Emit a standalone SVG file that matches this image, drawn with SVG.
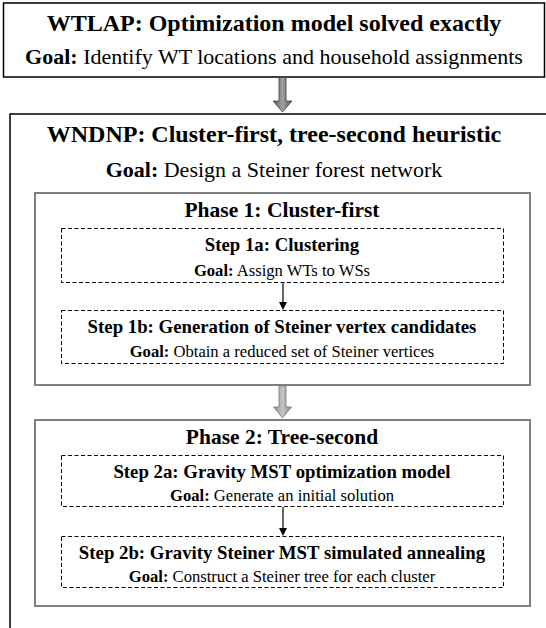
<svg xmlns="http://www.w3.org/2000/svg" width="546" height="628" viewBox="0 0 546 628">
<defs>
<linearGradient id="gDark" x1="0" y1="0" x2="1" y2="0">
<stop offset="0" stop-color="#5a5a5a"/>
<stop offset="0.5" stop-color="#a0a0a0"/>
<stop offset="1" stop-color="#5a5a5a"/>
</linearGradient>
<linearGradient id="gLight" x1="0" y1="0" x2="1" y2="0">
<stop offset="0" stop-color="#8c8c8c"/>
<stop offset="0.5" stop-color="#c4c4c4"/>
<stop offset="1" stop-color="#8c8c8c"/>
</linearGradient>
</defs>
<rect width="546" height="628" fill="#fff"/>

<g id="wtlap">
<rect x="3.5" y="3" width="541" height="74" fill="#fff" stroke="#000" stroke-width="1.5"/>
<text x="274" y="31" font-family="Liberation Serif" font-size="24" font-weight="bold" text-anchor="middle">WTLAP: Optimization model solved exactly</text>
<text x="274" y="64" font-family="Liberation Serif" font-size="22" text-anchor="middle"><tspan font-weight="bold">Goal:</tspan> Identify WT locations and household assignments</text>
</g>

<g id="wndnp">
<rect x="10" y="114" width="545" height="530" fill="#fff" stroke="#000" stroke-width="1.5"/>
<text x="274" y="142" font-family="Liberation Serif" font-size="24" font-weight="bold" text-anchor="middle">WNDNP: Cluster-first, tree-second heuristic</text>
<text x="274" y="177" font-family="Liberation Serif" font-size="22" text-anchor="middle"><tspan font-weight="bold">Goal:</tspan> Design a Steiner forest network</text>
</g>

<g id="phase1">
<rect x="35" y="193" width="495" height="192" fill="none" stroke="#808080" stroke-width="2"/>
<text x="282" y="217" font-family="Liberation Serif" font-size="21.5" font-weight="bold" text-anchor="middle">Phase 1: Cluster-first</text>
</g>

<g id="step1a">
<rect x="61.5" y="228.5" width="442" height="54" fill="none" stroke="#000" stroke-width="1" stroke-dasharray="4,2.5"/>
<text x="282" y="251" font-family="Liberation Serif" font-size="18.8" font-weight="bold" text-anchor="middle">Step 1a: Clustering</text>
<text x="282" y="276" font-family="Liberation Serif" font-size="16.6" text-anchor="middle"><tspan font-weight="bold">Goal:</tspan> Assign WTs to WSs</text>
</g>

<g id="step1b">
<rect x="61.5" y="310.5" width="442" height="53" fill="none" stroke="#000" stroke-width="1" stroke-dasharray="4,2.5"/>
<text x="282" y="333" font-family="Liberation Serif" font-size="18.8" font-weight="bold" text-anchor="middle">Step 1b: Generation of Steiner vertex candidates</text>
<text x="282" y="357" font-family="Liberation Serif" font-size="16.6" text-anchor="middle"><tspan font-weight="bold">Goal:</tspan> Obtain a reduced set of Steiner vertices</text>
</g>

<g id="phase2">
<rect x="35" y="420" width="495" height="186" fill="none" stroke="#808080" stroke-width="2"/>
<text x="282" y="444" font-family="Liberation Serif" font-size="21.5" font-weight="bold" text-anchor="middle">Phase 2: Tree-second</text>
</g>

<g id="step2a">
<rect x="61.5" y="455.5" width="442" height="51" fill="none" stroke="#000" stroke-width="1" stroke-dasharray="4,2.5"/>
<text x="282" y="478" font-family="Liberation Serif" font-size="18.8" font-weight="bold" text-anchor="middle">Step 2a: Gravity MST optimization model</text>
<text x="282" y="501" font-family="Liberation Serif" font-size="16.6" text-anchor="middle"><tspan font-weight="bold">Goal:</tspan> Generate an initial solution</text>
</g>

<g id="step2b">
<rect x="61.5" y="536.5" width="442" height="51" fill="none" stroke="#000" stroke-width="1" stroke-dasharray="4,2.5"/>
<text x="282" y="559" font-family="Liberation Serif" font-size="18.8" font-weight="bold" text-anchor="middle">Step 2b: Gravity Steiner MST simulated annealing</text>
<text x="282" y="582" font-family="Liberation Serif" font-size="16.6" text-anchor="middle"><tspan font-weight="bold">Goal:</tspan> Construct a Steiner tree for each cluster</text>
</g>

<g id="connectors">
<path d="M279,77.5 H286 V101 H292 L282.5,112 L273,101 H279 Z" fill="url(#gDark)" stroke="#404040" stroke-width="0.8"/>
<line x1="283" y1="283" x2="283" y2="303" stroke="#000" stroke-width="1.2"/>
<path d="M279,302 L287,302 L283,310 Z" fill="#000"/>
<path d="M279,386 H286 V407 H291.5 L282.5,418 L273.5,407 H279 Z" fill="url(#gLight)" stroke="#7a7a7a" stroke-width="0.8"/>
<line x1="283" y1="507" x2="283" y2="529" stroke="#000" stroke-width="1.2"/>
<path d="M279,528 L287,528 L283,536 Z" fill="#000"/>
</g>
</svg>
